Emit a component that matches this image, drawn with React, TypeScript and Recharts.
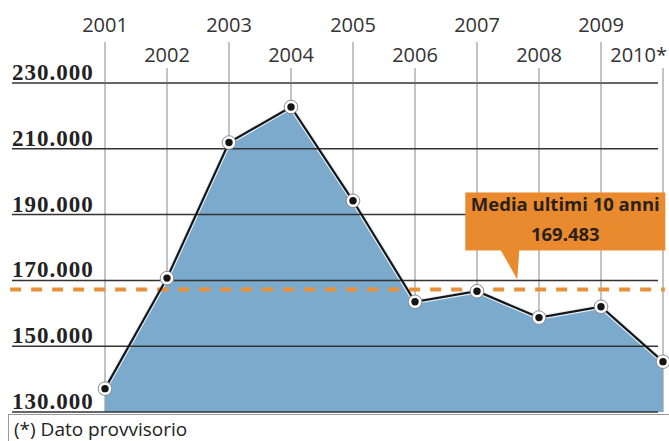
import React from 'react';
import {
  ComposedChart, Area, Line, XAxis, YAxis, CartesianGrid,
  ReferenceLine, ReferenceDot
} from 'recharts';

const years = [2001, 2002, 2003, 2004, 2005, 2006, 2007, 2008, 2009, 2010];
const yearLabels = ['2001', '2002', '2003', '2004', '2005', '2006', '2007', '2008', '2009', '2010*'];
const values = [137100, 170700, 211900, 222700, 194200, 163500, 166700, 158700, 162000, 145300];
const yTicks = [130000, 150000, 170000, 190000, 210000, 230000];
// dashed line sits where the original draws it
const averageValue = 167250;
const averageText = ['Media ultimi 10 anni', '169.483'];
const calloutYear = 2007.65;
const footnote = '(*) Dato provvisorio';

const data = years.map((year, i) => ({ year, value: values[i] }));

const W = 669;
const H = 441;
const PLOT_TOP = 83;

const fmt = (v: number) => String(v).replace(/\B(?=(\d{3})+(?!\d))/g, '.');

const YearTick = (props: any) => {
  const { x, payload } = props;
  const i = years.indexOf(payload.value);
  const topRow = i % 2 === 0;
  const last = i === years.length - 1;
  return (
    <g>
      <text
        x={last ? x + 4 : x}
        y={topRow ? 32 : 62}
        textAnchor={last ? 'end' : 'middle'}
        fontFamily="Open Sans"
        fontSize={20}
        fill="#333"
      >
        {yearLabels[i]}
      </text>
      <line x1={x} x2={x} y1={topRow ? 42 : 68} y2={PLOT_TOP} stroke="#888" strokeWidth={1} />
    </g>
  );
};

const ValueTick = (props: any) => {
  const { y, payload } = props;
  return (
    <text
      x={12}
      y={y - 3}
      fontFamily="Liberation Serif"
      fontWeight="bold"
      fontSize={23}
      letterSpacing={1}
      fill="#222"
    >
      {fmt(payload.value)}
    </text>
  );
};

const PointDot = (props: any) => {
  const { cx, cy } = props;
  if (cx == null || cy == null) return null;
  return (
    <g>
      <circle cx={cx} cy={cy} r={6.8} fill="#fff" stroke="#8a8a8a" strokeWidth={1} />
      <circle cx={cx} cy={cy} r={3.7} fill="#151515" />
    </g>
  );
};

const Callout = (props: any) => {
  const { cx, cy } = props;
  const tipY = cy - 10;
  const bottom = cy - 39;
  const top = cy - 97;
  return (
    <g>
      <rect x={cx - 52} y={top} width={200} height={bottom - top} fill="#e98a2e" />
      <polygon
        points={`${cx - 17},${bottom - 1} ${cx + 2},${bottom - 1} ${cx},${tipY}`}
        fill="#e98a2e"
      />
      <text
        x={cx + 48}
        y={cy - 78}
        textAnchor="middle"
        fontFamily="Open Sans"
        fontWeight="bold"
        fontSize={18.5}
        fill="#2b2118"
      >
        {averageText[0]}
      </text>
      <text
        x={cx + 48}
        y={cy - 48}
        textAnchor="middle"
        fontFamily="Open Sans"
        fontWeight="bold"
        fontSize={18.5}
        fill="#2b2118"
      >
        {averageText[1]}
      </text>
    </g>
  );
};

export default function App() {
  return (
    <div style={{ position: 'absolute', left: 0, top: 0, width: W, height: H, background: '#fff' }}>
      <ComposedChart
        width={W}
        height={H}
        data={data}
        margin={{ top: 8, right: 6, bottom: 29, left: 10 }}
      >
        <CartesianGrid horizontal={false} vertical stroke="#888" strokeWidth={1} />
        <XAxis
          type="number"
          dataKey="year"
          domain={[2001, 2010]}
          ticks={years}
          interval={0}
          orientation="top"
          height={75}
          axisLine={false}
          tickLine={false}
          tick={<YearTick />}
        />
        <YAxis
          type="number"
          domain={[130000, 230000]}
          ticks={yTicks}
          width={95}
          axisLine={false}
          tickLine={false}
          tick={<ValueTick />}
        />
        <Area
          type="linear"
          dataKey="value"
          fill="#7baacd"
          fillOpacity={1}
          stroke="#e6eff6"
          strokeWidth={4.5}
          dot={false}
          activeDot={false}
          isAnimationActive={false}
        />
        {yTicks.map((v) => (
          <ReferenceLine
            key={v}
            segment={[{ x: 1999.5, y: v }, { x: 2009.92, y: v }]}
            stroke="#333"
            strokeWidth={1.5}
            ifOverflow="visible"
          />
        ))}
        <ReferenceLine
          segment={[{ x: 1999.47, y: averageValue }, { x: 2010.03, y: averageValue }]}
          stroke="#e8913a"
          strokeWidth={4}
          strokeDasharray="11 10"
          ifOverflow="visible"
        />
        <Line
          type="linear"
          dataKey="value"
          stroke="#151515"
          strokeWidth={2.2}
          dot={<PointDot />}
          activeDot={false}
          isAnimationActive={false}
        />
        <ReferenceDot
          x={calloutYear}
          y={averageValue}
          ifOverflow="visible"
          shape={<Callout />}
        />
      </ComposedChart>
      <div
        style={{
          position: 'absolute',
          left: 8,
          top: 414,
          width: 670,
          height: 40,
          borderTop: '1px solid #9a9a9a',
          borderLeft: '1px solid #9a9a9a',
          boxSizing: 'border-box',
          paddingTop: 1,
          paddingLeft: 5,
          fontFamily: 'Open Sans',
          fontSize: 19,
          color: '#222',
          lineHeight: 'normal',
        }}
      >
        {footnote}
      </div>
    </div>
  );
}
